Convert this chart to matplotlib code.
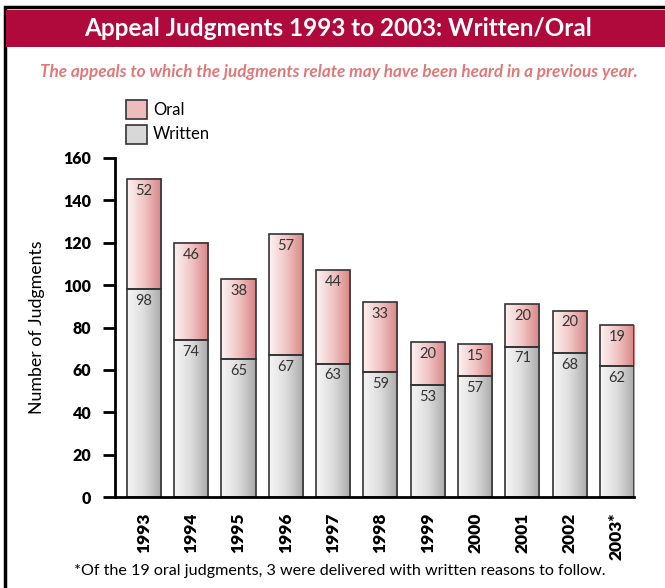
import numpy as np
import matplotlib
matplotlib.use("Agg")
import matplotlib.pyplot as plt
from matplotlib.colors import LinearSegmentedColormap
from matplotlib.patches import Rectangle

years = ["1993", "1994", "1995", "1996", "1997", "1998", "1999", "2000", "2001", "2002", "2003*"]
written = [98, 74, 65, 67, 63, 59, 53, 57, 71, 68, 62]
oral = [52, 46, 38, 57, 44, 33, 20, 15, 20, 20, 19]
yticks = [0, 20, 40, 60, 80, 100, 120, 140, 160]

plt.rcParams['font.family'] = ['Lato', 'DejaVu Sans']

fig = plt.figure(figsize=(6.65, 5.88), dpi=100)
W, H = 665, 588

# outer border
fig.patches.append(Rectangle((5 / W, -0.01), 1.2, (588 - 7) / H + 0.01, transform=fig.transFigure,
                             fill=False, edgecolor='black', linewidth=2.5))
# title bar
fig.patches.append(Rectangle((6 / W, (588 - 47) / H), 1.0, 37 / H, transform=fig.transFigure,
                             facecolor='#b00a3c', edgecolor='none'))
fig.text(338 / W, (588 - 29) / H, "Appeal Judgments 1993 to 2003: Written/Oral",
         color='white', fontsize=17.5, fontweight='bold', ha='center', va='center')
fig.text(339 / W, (588 - 72) / H,
         "The appeals to which the judgments relate may have been heard in a previous year.",
         color='#e07878', fontsize=12.3, fontweight='bold', style='italic', ha='center', va='center')

ax = fig.add_axes([115 / W, (588 - 497) / H, (634 - 115) / W, (497 - 158) / H])

grey_cmap = LinearSegmentedColormap.from_list('g', ['#f6f6f6', '#dcdcdc', '#a9a9a9'])
pink_cmap = LinearSegmentedColormap.from_list('p', ['#fdf2f2', '#f0c4c4', '#d88484'])
grad = np.linspace(0, 1, 64).reshape(1, -1)

x = np.arange(len(years))
bw = 0.72
for xi, w, o in zip(x, written, oral):
    ax.imshow(grad, cmap=grey_cmap, extent=(xi - bw / 2, xi + bw / 2, 0, w), aspect='auto', zorder=1)
    ax.imshow(grad, cmap=pink_cmap, extent=(xi - bw / 2, xi + bw / 2, w, w + o), aspect='auto', zorder=1)
ax.bar(x, written, width=bw, fill=False, edgecolor='#333333', linewidth=1.2, zorder=2)
ax.bar(x, oral, width=bw, bottom=written, fill=False, edgecolor='#333333', linewidth=1.2, zorder=2)

for xi, w, o in zip(x, written, oral):
    ax.text(xi, w + o - 2.3, str(o), ha='center', va='top', fontsize=10.5, color='#333333', zorder=3)
    ax.text(xi, w - 2.3, str(w), ha='center', va='top', fontsize=10.5, color='#333333', zorder=3)

ax.set_xlim(-0.61, len(years) - 1 + 0.36)
ax.set_ylim(0, 160)
ax.set_yticks(yticks)
ax.set_yticklabels([str(t) for t in yticks], fontsize=11.5, fontweight='heavy')
ax.set_xticks(x)
ax.set_xticklabels(years, rotation=90, fontsize=12.5, fontweight='heavy', va='top')
ax.tick_params(axis='x', length=0, pad=11)
ax.tick_params(axis='y', length=9, width=2, pad=8, direction='out')
for s in ['top', 'right']:
    ax.spines[s].set_visible(False)
ax.spines['left'].set_linewidth(2)
ax.spines['bottom'].set_linewidth(2)
ax.set_ylabel("Number of Judgments", fontsize=12.8, labelpad=13)

# legend
fig.patches.append(Rectangle((126 / W, (588 - 119) / H), 21 / W, 19 / H, transform=fig.transFigure,
                             facecolor='#efbcbc', edgecolor='#333333', linewidth=1.2))
fig.patches.append(Rectangle((126 / W, (588 - 144) / H), 21 / W, 19 / H, transform=fig.transFigure,
                             facecolor='#d8d8d8', edgecolor='#333333', linewidth=1.2))
fig.text(153 / W, (588 - 110) / H, "Oral", fontsize=12, va='center', ha='left')
fig.text(153 / W, (588 - 134) / H, "Written", fontsize=12, va='center', ha='left')

fig.text(340 / W, (588 - 571) / H,
         "*Of the 19 oral judgments, 3 were delivered with written reasons to follow.",
         fontsize=11.6, ha='center', va='center')

fig.savefig("out.png", dpi=100)
